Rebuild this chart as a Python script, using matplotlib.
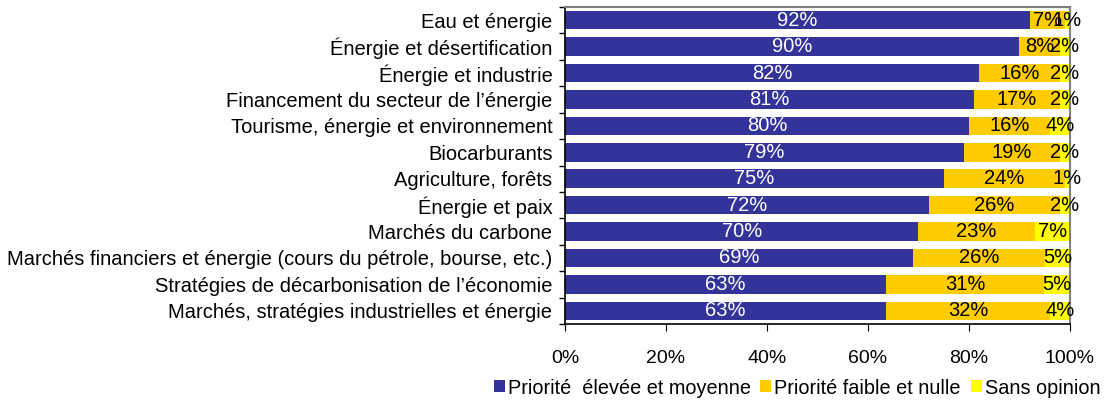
import matplotlib
matplotlib.use("Agg")
import matplotlib.pyplot as plt
import numpy as np

plt.rcParams['font.family'] = ['Liberation Sans', 'DejaVu Sans']

categories = [
    "Eau et énergie",
    "Énergie et désertification",
    "Énergie et industrie",
    "Financement du secteur de l’énergie",
    "Tourisme, énergie et environnement",
    "Biocarburants",
    "Agriculture, forêts",
    "Énergie et paix",
    "Marchés du carbone",
    "Marchés financiers et énergie (cours du pétrole, bourse, etc.)",
    "Stratégies de décarbonisation de l’économie",
    "Marchés, stratégies industrielles et énergie",
]
high = [92, 90, 82, 81, 80, 79, 75, 72, 70, 69, 63, 63]
low = [7, 8, 16, 17, 16, 19, 24, 26, 23, 26, 31, 32]
none_ = [1, 2, 2, 2, 4, 2, 1, 2, 7, 5, 5, 4]
series_names = ["Priorité  élevée et moyenne", "Priorité faible et nulle", "Sans opinion"]
colors = ["#333399", "#FFCC00", "#FFFF00"]
text_colors = ["white", "black", "black"]
xticks = [0, 20, 40, 60, 80, 100]

data = np.array([high, low, none_], dtype=float)
totals = data.sum(axis=0)
frac = data / totals * 100

fig = plt.figure(figsize=(11.05, 4.01), dpi=100)
ax = fig.add_axes([565/1105, 1-324/401, 505/1105, 317/401])

y = np.arange(len(categories))
left = np.zeros(len(categories))
for i in range(3):
    ax.barh(y, frac[i], left=left, height=0.7, color=colors[i], label=series_names[i])
    for j in range(len(categories)):
        ax.text(left[j] + frac[i][j] / 2, y[j], f"{int(data[i][j])}%",
                ha='center', va='center', color=text_colors[i], fontsize=14.5, clip_on=False)
    left += frac[i]

ax.set_ylim(len(categories) - 0.5, -0.5)
ax.set_xlim(0, 100)
ax.set_yticks(y)
ax.set_yticklabels(categories, fontsize=14.5)
ax.set_yticks(np.arange(-0.5, len(categories)), minor=True)
ax.tick_params(axis='y', which='major', length=0, pad=9)
ax.tick_params(axis='y', which='minor', length=4, direction='out', width=1)
ax.set_xticks(xticks)
ax.set_xticklabels([f"{v}%" for v in xticks], fontsize=14)
ax.tick_params(axis='x', length=5, direction='out', pad=14)

for s in ['top', 'right']:
    ax.spines[s].set_color('#808080')
    ax.spines[s].set_linewidth(1.5)
for s in ['left', 'bottom']:
    ax.spines[s].set_color('black')
    ax.spines[s].set_linewidth(1.2)

leg = fig.legend(loc='center', bbox_to_anchor=(797/1105, 1-388/401), ncol=3, frameon=False,
                 fontsize=14.3, handlelength=0.55, handleheight=0.55, handletextpad=0.15,
                 columnspacing=0.5, borderaxespad=0)

fig.savefig("out.png", dpi=100)
